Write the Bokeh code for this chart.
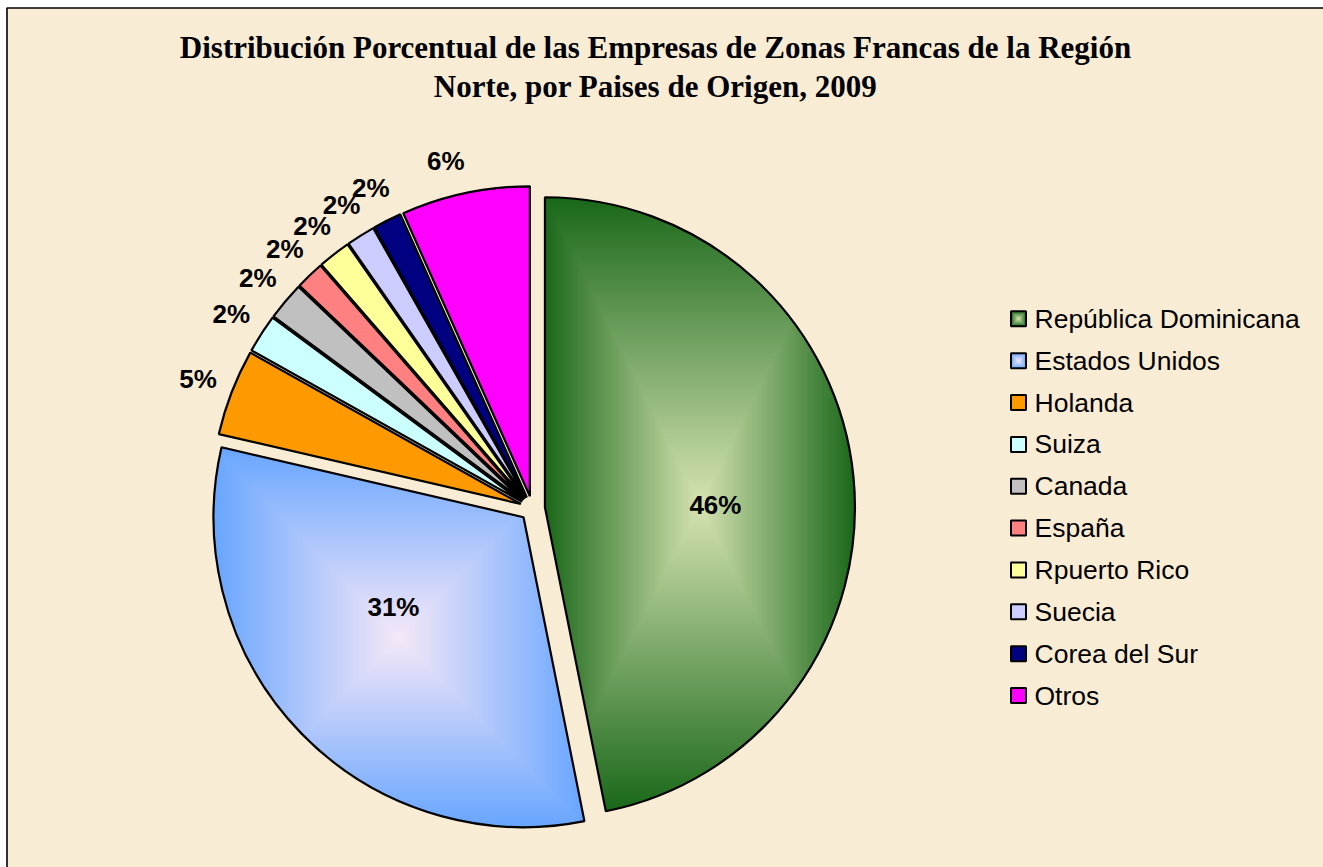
import numpy as np
from bokeh.plotting import figure
from bokeh.models import Range1d
from bokeh.core.properties import value
from bokeh.embed import file_html
from bokeh.resources import INLINE

# ---------------- data ----------------
categories = ["República Dominicana", "Estados Unidos", "Holanda", "Suiza", "Canada",
              "España", "Rpuerto Rico", "Suecia", "Corea del Sur", "Otros"]
shares = [46.9, 31.8, 4.5, 2.0, 2.0, 1.5, 1.7, 1.5, 1.5, 6.7]
pct_labels = ["46%", "31%", "5%", "2%", "2%", "2%", "2%", "2%", "2%", "6%"]
colors = ["#2F7F2F", "#6FA8FF", "#FF9900", "#CCFFFF", "#C0C0C0",
          "#FF8080", "#FFFF99", "#CCCCFF", "#000080", "#FF00FF"]
title_lines = ["Distribución Porcentual de las Empresas de Zonas Francas de la Región",
               "Norte, por Paises de Origen, 2009"]

# gradient (inner, outer) for the two shaded slices
gradients = {0: ((214, 228, 178), (26, 104, 26)),
             1: ((246, 232, 248), (104, 166, 255))}

# ---------------- layout ----------------
W, H = 1323, 867
BG = "#F9ECD4"
CX, CY = 532.0, 359.0
R = 310.0
EXPLODE = 12.5
GAMMA = 1.0

p = figure(width=W, height=H, x_range=Range1d(0, W), y_range=Range1d(0, H),
           min_border=0, toolbar_location=None, output_backend="svg",
           x_axis_location=None, y_axis_location=None)
p.grid.visible = False
p.outline_line_color = None
p.background_fill_color = "white"
p.border_fill_color = "white"

# chart area and its frame (left + top edges visible)
p.quad(left=[6.5], right=[W], bottom=[0], top=[H - 7.5], fill_color=BG, line_color=None)
p.line(x=[6.5, 6.5, W], y=[0, H - 7.5, H - 7.5], line_color="black", line_width=1.6)

vals = np.array(shares, dtype=float)
sweep = vals / vals.sum() * 2 * np.pi
start = np.pi / 2 - np.concatenate([[0.0], np.cumsum(sweep)[:-1]])
end = start - sweep
mid = (start + end) / 2
ax = CX + EXPLODE * np.cos(mid)
ay = CY + EXPLODE * np.sin(mid)


def pack(rgb, alpha):
    h, w = alpha.shape
    img = np.zeros((h, w), dtype=np.uint32)
    v = img.view(dtype=np.uint8).reshape((h, w, 4))
    v[..., 0] = rgb[..., 0]
    v[..., 1] = rgb[..., 1]
    v[..., 2] = rgb[..., 2]
    v[..., 3] = alpha
    return img


def rect_gradient(gx, gy, x0, x1, y0, y1, inner, outer):
    cx, cy = (x0 + x1) / 2, (y0 + y1) / 2
    hw, hh = (x1 - x0) / 2, (y1 - y0) / 2
    t = np.clip(np.maximum(np.abs(gx - cx) / hw, np.abs(gy - cy) / hh), 0, 1) ** GAMMA
    inner = np.array(inner, dtype=float)
    outer = np.array(outer, dtype=float)
    rgb = inner[None, None, :] * (1 - t[..., None]) + outer[None, None, :] * t[..., None]
    return np.clip(rgb, 0, 255).astype(np.uint8)


# base wedges
p.wedge(x=ax, y=ay, radius=R, start_angle=end, end_angle=start,
        fill_color=colors, line_color=None)

# gradient overlays for shaded slices
for i, (inner, outer) in gradients.items():
    th = np.linspace(end[i], start[i], 600)
    xs = np.concatenate([[ax[i]], ax[i] + R * np.cos(th)])
    ys = np.concatenate([[ay[i]], ay[i] + R * np.sin(th)])
    bx0, bx1, by0, by1 = xs.min(), xs.max(), ys.min(), ys.max()
    ix0, iy0 = int(np.floor(bx0)) - 1, int(np.floor(by0)) - 1
    ix1, iy1 = int(np.ceil(bx1)) + 1, int(np.ceil(by1)) + 1
    gx, gy = np.meshgrid(np.arange(ix0, ix1) + 0.5, np.arange(iy0, iy1) + 0.5)
    rgb = rect_gradient(gx, gy, bx0, bx1, by0, by1, inner, outer)
    dx, dy = gx - ax[i], gy - ay[i]
    rr = np.hypot(dx, dy)
    rel = (start[i] - np.arctan2(dy, dx)) % (2 * np.pi)
    inside = (rr <= R) & (rel <= sweep[i])
    alpha = np.where(inside, 255, 0).astype(np.uint8)
    p.image_rgba(image=[pack(rgb, alpha)], x=ix0, y=iy0, dw=ix1 - ix0, dh=iy1 - iy0)

# outlines
p.wedge(x=ax, y=ay, radius=R, start_angle=end, end_angle=start,
        fill_color=None, line_color="black", line_width=2.2)

# data labels
inner_place = {0: (-5.0, 0.55), 1: (-9.5, 0.51)}
lx, ly = [], []
for i in range(len(vals)):
    if i in inner_place:
        dang, fr = inner_place[i]
        a = mid[i] + np.deg2rad(dang)
        d = fr * R
    else:
        a = mid[i] + (np.deg2rad(2.0) if i == len(vals) - 1 else 0.0)
        d = R + 36
    lx.append(ax[i] + d * np.cos(a))
    ly.append(ay[i] + d * np.sin(a))
p.text(x=lx, y=ly, text=pct_labels, text_align="center", text_baseline="middle",
       text_font=value("Liberation Sans"), text_font_style="bold",
       text_font_size="26px", text_color="black")

# title
p.text(x=[655, 655], y=[H - 47, H - 86], text=title_lines, text_align="center",
       text_baseline="middle", text_font=value("Liberation Serif"),
       text_font_style="bold", text_font_size="31px", text_color="black")

# legend
LEG_X, LEG_Y0, LEG_DY, SQ = 1018.0, H - 318.3, 41.86, 15
leg_y = [LEG_Y0 - LEG_DY * i for i in range(len(categories))]
p.rect(x=[LEG_X] * len(categories), y=leg_y, width=SQ, height=SQ,
       fill_color=colors, line_color=None)
for i, (inner, outer) in gradients.items():
    x0, y0 = LEG_X - SQ / 2, leg_y[i] - SQ / 2
    gx, gy = np.meshgrid(np.arange(SQ) + 0.5 + x0, np.arange(SQ) + 0.5 + y0)
    rgb = rect_gradient(gx, gy, x0, x0 + SQ, y0, y0 + SQ, inner, outer)
    alpha = np.full(gx.shape, 255, dtype=np.uint8)
    p.image_rgba(image=[pack(rgb, alpha)], x=x0, y=y0, dw=SQ, dh=SQ)
p.rect(x=[LEG_X] * len(categories), y=leg_y, width=SQ, height=SQ,
       fill_color=None, line_color="black", line_width=2)
p.text(x=[LEG_X + 16] * len(categories), y=leg_y, text=categories,
       text_align="left", text_baseline="middle",
       text_font=value("Liberation Sans"), text_font_size="26.5px", text_color="black")

open("out.html", "w").write(file_html(p, INLINE))
